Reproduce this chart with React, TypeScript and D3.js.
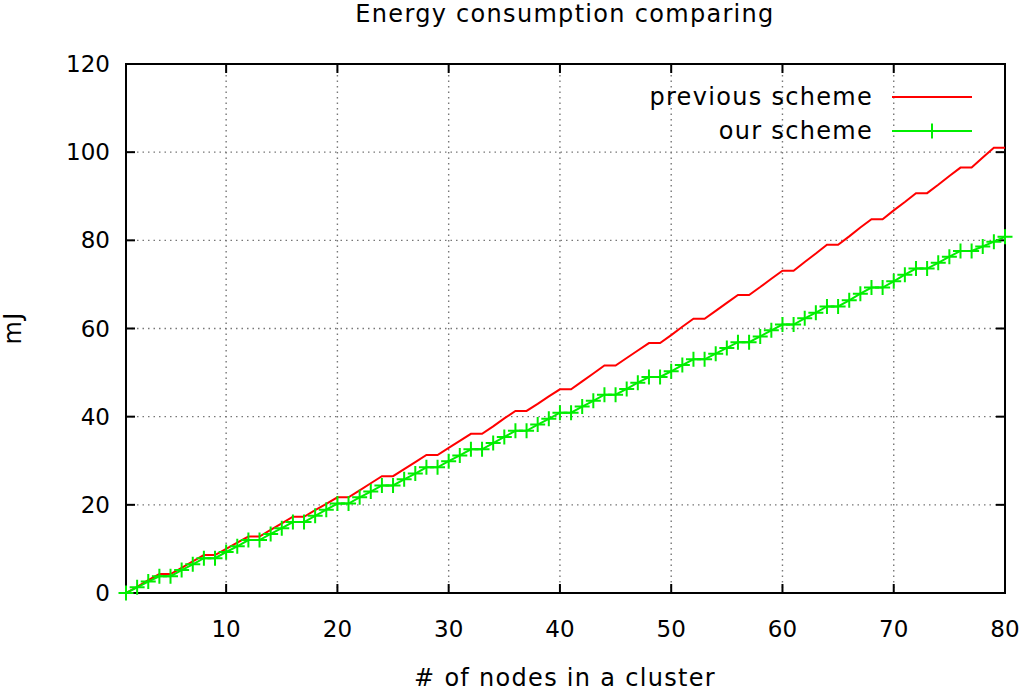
import { useEffect, useRef } from "react";
import * as d3 from "d3";

// nodes in a cluster: 1..80
const nodes = d3.range(1, 81);

// previous scheme (mJ)
const previousScheme = [
  0, 1.4, 2.9, 4.3, 4.3, 5.7, 7.2, 8.6, 8.6, 10.0,
  11.4, 12.8, 12.8, 14.3, 15.8, 17.3, 17.3, 18.8, 20.2, 21.7,
  21.7, 23.3, 24.9, 26.5, 26.5, 28.1, 29.7, 31.3, 31.3, 32.9,
  34.5, 36.1, 36.1, 37.8, 39.6, 41.3, 41.3, 42.9, 44.6, 46.2,
  46.2, 48.0, 49.8, 51.6, 51.6, 53.3, 55.0, 56.7, 56.7, 58.5,
  60.4, 62.2, 62.2, 64.0, 65.8, 67.6, 67.6, 69.4, 71.3, 73.1,
  73.1, 75.1, 77.0, 79.0, 79.0, 80.9, 82.9, 84.8, 84.8, 86.8,
  88.7, 90.7, 90.7, 92.6, 94.6, 96.5, 96.5, 98.8, 101.0, 101.0,
];

// our scheme (mJ)
const ourScheme = [
  0, 1.3, 2.6, 3.8, 3.8, 5.2, 6.5, 7.9, 7.9, 9.3,
  10.6, 12.0, 12.0, 13.4, 14.7, 16.1, 16.1, 17.5, 18.9, 20.3,
  20.3, 21.7, 23.0, 24.4, 24.4, 25.8, 27.1, 28.5, 28.5, 29.9,
  31.2, 32.6, 32.6, 34.0, 35.4, 36.8, 36.8, 38.2, 39.5, 40.9,
  40.9, 42.3, 43.6, 45.0, 45.0, 46.3, 47.7, 49.0, 49.0, 50.3,
  51.7, 53.0, 53.0, 54.3, 55.6, 56.9, 56.9, 58.2, 59.6, 60.9,
  60.9, 62.3, 63.6, 65.0, 65.0, 66.4, 67.9, 69.3, 69.3, 70.7,
  72.2, 73.6, 73.6, 74.9, 76.3, 77.6, 77.6, 78.6, 79.7, 80.8,
];

const xTicks = [10, 20, 30, 40, 50, 60, 70, 80];
const yTicks = [0, 20, 40, 60, 80, 100, 120];

const legendLabels = ["previous scheme", "our scheme"];
const colors = ["#ff0000", "#00ee00"];

const W = 1024;
const H = 690;
const FONT = "'DejaVu Sans', sans-serif";
const SPACING = 1.3; // reference glyphs sit a bit wider apart

export default function App() {
  const svgRef = useRef<SVGSVGElement>(null);

  useEffect(() => {
    const svg = d3.select(svgRef.current);
    svg.selectAll("*").remove();

    const margin = { top: 64, right: 19, bottom: 97, left: 126 };
    const width = W - margin.left - margin.right;
    const height = H - margin.top - margin.bottom;

    const x = d3.scaleLinear().domain([1, 80]).range([0, width]);
    const y = d3.scaleLinear().domain([0, 120]).range([height, 0]);

    const g = svg
      .append("g")
      .attr("transform", `translate(${margin.left},${margin.top})`);

    // dotted grid
    const grid = g.append("g").attr("stroke", "#777").attr("stroke-width", 1.4).attr("stroke-dasharray", "1.5,4");
    xTicks.forEach((t) => {
      grid.append("line").attr("x1", x(t)).attr("x2", x(t)).attr("y1", 0).attr("y2", height);
    });
    yTicks.forEach((t) => {
      grid.append("line").attr("x1", 0).attr("x2", width).attr("y1", y(t)).attr("y2", y(t));
    });

    // ticks on all four sides, pointing inward
    const tickLen = 9;
    const ticks = g.append("g").attr("stroke", "#000").attr("stroke-width", 2);
    xTicks.forEach((t) => {
      ticks.append("line").attr("x1", x(t)).attr("x2", x(t)).attr("y1", height).attr("y2", height - tickLen);
      ticks.append("line").attr("x1", x(t)).attr("x2", x(t)).attr("y1", 0).attr("y2", tickLen);
    });
    yTicks.forEach((t) => {
      ticks.append("line").attr("x1", 0).attr("x2", tickLen).attr("y1", y(t)).attr("y2", y(t));
      ticks.append("line").attr("x1", width).attr("x2", width - tickLen).attr("y1", y(t)).attr("y2", y(t));
    });

    // tick labels
    xTicks.forEach((t) => {
      g.append("text")
        .attr("x", x(t))
        .attr("y", height + 44)
        .attr("text-anchor", "middle")
        .attr("font-family", FONT)
        .attr("font-size", 23)
        .attr("fill", "#000")
        .text(t);
    });
    yTicks.forEach((t) => {
      g.append("text")
        .attr("x", -16)
        .attr("y", y(t) + 8)
        .attr("text-anchor", "end")
        .attr("font-family", FONT)
        .attr("font-size", 23)
        .attr("fill", "#000")
        .text(t);
    });

    // border
    g.append("rect")
      .attr("width", width)
      .attr("height", height)
      .attr("fill", "none")
      .attr("stroke", "#000")
      .attr("stroke-width", 2);

    const lineGen = d3
      .line<number>()
      .x((_, i) => x(nodes[i]))
      .y((d) => y(d));

    g.append("path")
      .datum(previousScheme)
      .attr("fill", "none")
      .attr("stroke", colors[0])
      .attr("stroke-width", 2)
      .attr("d", lineGen);

    g.append("path")
      .datum(ourScheme)
      .attr("fill", "none")
      .attr("stroke", colors[1])
      .attr("stroke-width", 2)
      .attr("d", lineGen);

    // gnuplot-style "+" point markers
    const markerArm = 7.5;
    const plusPath = `M${-markerArm},0H${markerArm}M0,${-markerArm}V${markerArm}`;
    g.append("g")
      .selectAll("path")
      .data(ourScheme)
      .join("path")
      .attr("transform", (d, i) => `translate(${x(nodes[i])},${y(d)})`)
      .attr("d", plusPath)
      .attr("stroke", colors[1])
      .attr("stroke-width", 2)
      .attr("fill", "none");

    // legend
    legendLabels.forEach((label, i) => {
      const ly = 97 + i * 34;
      svg.append("text")
        .attr("x", 873)
        .attr("y", ly + 8)
        .attr("text-anchor", "end")
        .attr("font-family", FONT)
        .attr("font-size", 24)
        .attr("letter-spacing", SPACING)
        .attr("fill", "#000")
        .text(label);
      svg.append("line")
        .attr("x1", 892)
        .attr("x2", 972)
        .attr("y1", ly)
        .attr("y2", ly)
        .attr("stroke", colors[i])
        .attr("stroke-width", 2);
      if (i === 1) {
        svg.append("path")
          .attr("transform", `translate(932,${ly})`)
          .attr("d", plusPath)
          .attr("stroke", colors[i])
          .attr("stroke-width", 2);
      }
    });

    // title and axis labels
    svg.append("text")
      .attr("x", 565)
      .attr("y", 22)
      .attr("text-anchor", "middle")
      .attr("font-family", FONT)
      .attr("font-size", 24)
      .attr("letter-spacing", SPACING)
      .attr("fill", "#000")
      .text("Energy consumption comparing");

    svg.append("text")
      .attr("x", 565)
      .attr("y", 686)
      .attr("text-anchor", "middle")
      .attr("font-family", FONT)
      .attr("font-size", 24)
      .attr("letter-spacing", SPACING)
      .attr("fill", "#000")
      .text("# of nodes in a cluster");

    svg.append("text")
      .attr("transform", `translate(21,328) rotate(-90)`)
      .attr("text-anchor", "middle")
      .attr("font-family", FONT)
      .attr("font-size", 24)
      .attr("letter-spacing", SPACING)
      .attr("fill", "#000")
      .text("mJ");
  }, []);

  return (
    <svg
      ref={svgRef}
      width={W}
      height={H}
      style={{ position: "absolute", left: 0, top: 0, background: "#fff" }}
    />
  );
}
